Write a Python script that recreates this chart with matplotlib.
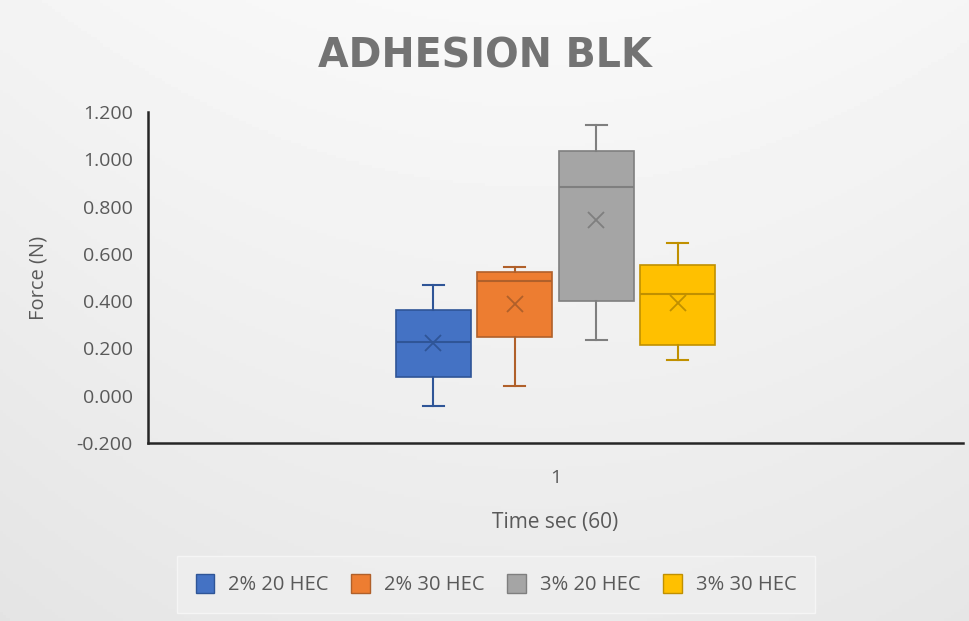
import numpy as np
import matplotlib
matplotlib.use("Agg")
import matplotlib.pyplot as plt
from matplotlib.patches import Patch

plt.rcParams['font.family'] = ['Open Sans', 'DejaVu Sans']

series = ["2% 20 HEC", "2% 30 HEC", "3% 20 HEC", "3% 30 HEC"]
whislo = [-0.044, 0.041, 0.236, 0.151]
q1 = [0.080, 0.247, 0.401, 0.214]
med = [0.226, 0.487, 0.881, 0.429]
q3 = [0.362, 0.522, 1.035, 0.553]
whishi = [0.470, 0.546, 1.144, 0.645]
means = [0.222, 0.387, 0.743, 0.392]
fills = ["#4472C4", "#ED7D31", "#A5A5A5", "#FFC000"]
edges = ["#2F5597", "#B0602A", "#7F7F7F", "#C09000"]
category = ["1"]
yticks = [-0.2, 0.0, 0.2, 0.4, 0.6, 0.8, 1.0, 1.2]

W, H = 970, 621
fig = plt.figure(figsize=(W / 100, H / 100), dpi=100)

# background gradient
bg = fig.add_axes([0, 0, 1, 1], zorder=-10)
yy, xx = np.mgrid[0:1:200j, 0:1:300j]
val = 0.975 - 0.06 * yy - 0.07 * (xx - 0.55) ** 2
bg.imshow(val, cmap='gray', vmin=0, vmax=1, aspect='auto', extent=[0, 1, 0, 1])
bg.set_axis_off()

ax = fig.add_axes([148 / W, 1 - 443 / H, (963 - 148) / W, (443 - 112) / H])
ax.patch.set_alpha(0)

n = len(series)
step = 0.1
width = 0.092
positions = [0.5 + (i - (n - 1) / 2) * step for i in range(n)]

for i in range(n):
    stats = [dict(whislo=whislo[i], q1=q1[i], med=med[i], q3=q3[i],
                  whishi=whishi[i], mean=means[i], fliers=[])]
    ax.bxp(stats, positions=[positions[i]], widths=width, patch_artist=True,
           showmeans=True, showfliers=False, capwidths=0.026,
           boxprops=dict(facecolor=fills[i], edgecolor=edges[i], linewidth=1.2),
           medianprops=dict(color=edges[i], linewidth=1.5),
           whiskerprops=dict(color=edges[i], linewidth=1.5),
           capprops=dict(color=edges[i], linewidth=1.5),
           meanprops=dict(marker='x', markeredgecolor=edges[i], markersize=11,
                          markeredgewidth=1.3))

ax.set_xlim(0, 1)
ax.set_ylim(-0.2, 1.2)
ax.set_yticks(yticks)
ax.set_yticklabels([f"{v:.3f}" for v in yticks])
ax.set_xticks([0.5])
ax.set_xticklabels(category)
ax.tick_params(axis='both', length=0, labelsize=14, labelcolor='#595959', pad=11)
ax.tick_params(axis='x', pad=19)
for s in ['top', 'right']:
    ax.spines[s].set_visible(False)
for s in ['left', 'bottom']:
    ax.spines[s].set_color('#262626')
    ax.spines[s].set_linewidth(1.8)

ax.set_ylabel("Force (N)", fontsize=14.5, color='#595959', labelpad=20)
ax.set_xlabel("Time sec (60)", fontsize=15, color='#595959', labelpad=18)

fig.text(0.5, 1 - 56 / H, "ADHESION BLK", ha='center', va='center',
         fontsize=28.5, fontweight='bold', color='#737373', family='DejaVu Sans')

handles = [Patch(facecolor=fills[i], edgecolor=edges[i], label=series[i]) for i in range(n)]
leg = fig.legend(handles=handles, loc='center', bbox_to_anchor=(496 / W, 1 - 584.5 / H),
                 ncol=4, frameon=True, fontsize=14.5, handlelength=0.9, handleheight=1.1,
                 columnspacing=1.15, handletextpad=0.7, borderpad=0.6, borderaxespad=0)
leg.get_frame().set_facecolor('#efefef')
leg.get_frame().set_edgecolor('#f8f8f8')
leg.get_frame().set_boxstyle('square')
for t in leg.get_texts():
    t.set_color('#595959')

fig.savefig("out.png", dpi=100)
